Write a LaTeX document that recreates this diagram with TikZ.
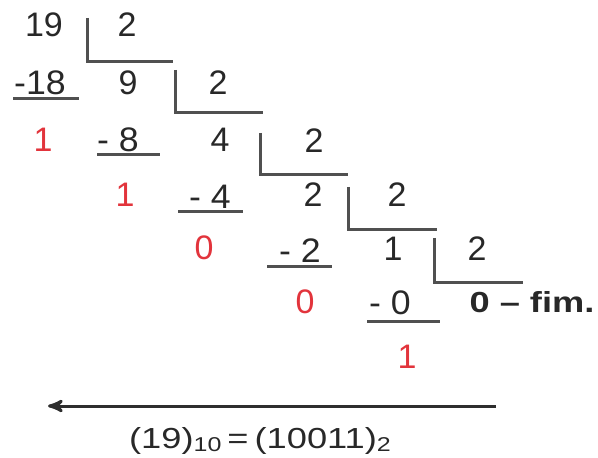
\documentclass[tikz,border=0pt]{standalone}
\usepackage{fontspec}
\setmainfont{Liberation Sans}
\usepackage{graphicx}
\usetikzlibrary{arrows}
\definecolor{digitgray}{RGB}{40,40,40}
\definecolor{restred}{RGB}{226,52,60}
\definecolor{linegray}{RGB}{80,80,80}
\newcommand{\wide}[2]{\scalebox{#1}[1]{#2}}
\newcommand{\base}[1]{\raisebox{-0.12em}{\fontsize{10}{10}\selectfont #1}}
\tikzset{style={>=stealth'}}
\tikzset{num/.style={text=digitgray,font=\fontsize{17}{17}\selectfont,inner sep=0mm}}
\tikzset{rest/.style={num,text=restred}}
\tikzset{endnote/.style={num,font=\fontsize{14.5}{14.5}\selectfont\bfseries}}
\tikzset{result/.style={num,font=\fontsize{14.5}{14.5}\selectfont,anchor=base}}
\tikzset{bar/.style={draw=linegray,line width=1.5pt}}

\begin{document}
\begin{tikzpicture}[x=0.5pt,y=-0.5pt]
    \useasboundingbox (0,0) rectangle (598,458);

    % dividends, divisors and quotients
    \node[num]  (n19) at (44, 25)  {19};
    \node[num]  (d1)  at (127, 25) {2};
    \node[num]  (s18) at (40, 83)  {\wide{1.05}{-18}};
    \node[num]  (q9)  at (128, 83) {9};
    \node[num]  (d2)  at (218, 83) {2};
    \node[num]  (s8)  at (118, 140) {\wide{1.05}{- 8}};
    \node[num]  (q4)  at (220, 140) {4};
    \node[num]  (d3)  at (314, 141) {2};
    \node[num]  (s4)  at (210, 197) {\wide{1.05}{- 4}};
    \node[num]  (q2)  at (313, 195) {2};
    \node[num]  (d4)  at (397, 195) {2};
    \node[num]  (s2)  at (300, 251) {\wide{1.05}{- 2}};
    \node[num]  (q1)  at (393, 249) {1};
    \node[num]  (d5)  at (477, 249) {2};
    \node[num]  (s0)  at (390, 303) {\wide{1.05}{- 0}};
    \node[endnote] (fim) at (532, 302) {\wide{1.25}{0 -- fim.}};

    % remainders
    \node[rest] (r1) at (43, 140)  {1};
    \node[rest] (r2) at (125, 195) {1};
    \node[rest] (r3) at (204, 248) {0};
    \node[rest] (r4) at (305, 302) {0};
    \node[rest] (r5) at (407, 357) {1};

    % division brackets
    \draw[bar] (87, 18)  |- (173, 62);
    \draw[bar] (175, 70) |- (263, 113);
    \draw[bar] (260, 133) |- (348, 175);
    \draw[bar] (348, 187) |- (437, 230);
    \draw[bar] (434, 238) |- (523, 283);

    % subtraction lines
    \draw[bar] (13, 99)   -- (79, 99);
    \draw[bar] (97, 155)  -- (160, 155);
    \draw[bar] (178, 212) -- (243, 212);
    \draw[bar] (267, 267) -- (332, 267);
    \draw[bar] (367, 322) -- (440, 322);

    % reading direction and result
    \coordinate (rd0) at (496, 406);
    \coordinate (rd1) at (48, 406);
    \draw[->,bar,draw=digitgray!85!linegray] (rd0) -- (rd1);

    \node[result] (res) at (260, 448) {\wide{1.25}{(19)\base{10}\,=\,(10011)\base{2}}};
\end{tikzpicture}
\end{document}
